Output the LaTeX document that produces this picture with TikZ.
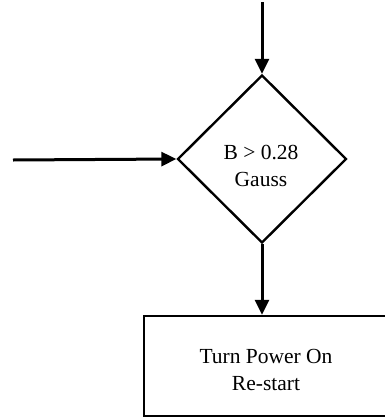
\documentclass[tikz,border=0pt]{standalone}
\usepackage{fontspec}
\setmainfont{Liberation Serif}
\usetikzlibrary{arrows.meta,shapes.geometric}
\begin{document}
\begin{tikzpicture}[x=1pt,y=-1pt,
  arr/.style={line width=3pt,-{Triangle[length=15pt,width=14pt]}},
  shapeline/.style={draw,line width=2.4pt},
  lbl/.style={font=\fontsize{21.5}{27}\selectfont,align=center,inner sep=0pt}]
\clip (0,0) rectangle (385,418);
\node[shapeline,diamond,minimum width=169pt,minimum height=168pt,inner sep=0pt] (d) at (262,159) {};
\node[lbl] (dt) at (261,166) {B > 0.28\\Gauss};
\node[shapeline,rectangle,minimum width=262pt,minimum height=100pt,inner sep=0pt] (box) at (275,366) {};
\node[lbl] (bt) at (266,370) {Turn Power On\\Re-start};
\coordinate (top) at (262,2);
\coordinate (left) at (13,160);
\draw[arr] (top) -- (d.north);
\draw[arr] (left) -- (d.west);
\draw[arr] (d.south) -- (d.south |- box.north);
\end{tikzpicture}
\end{document}
